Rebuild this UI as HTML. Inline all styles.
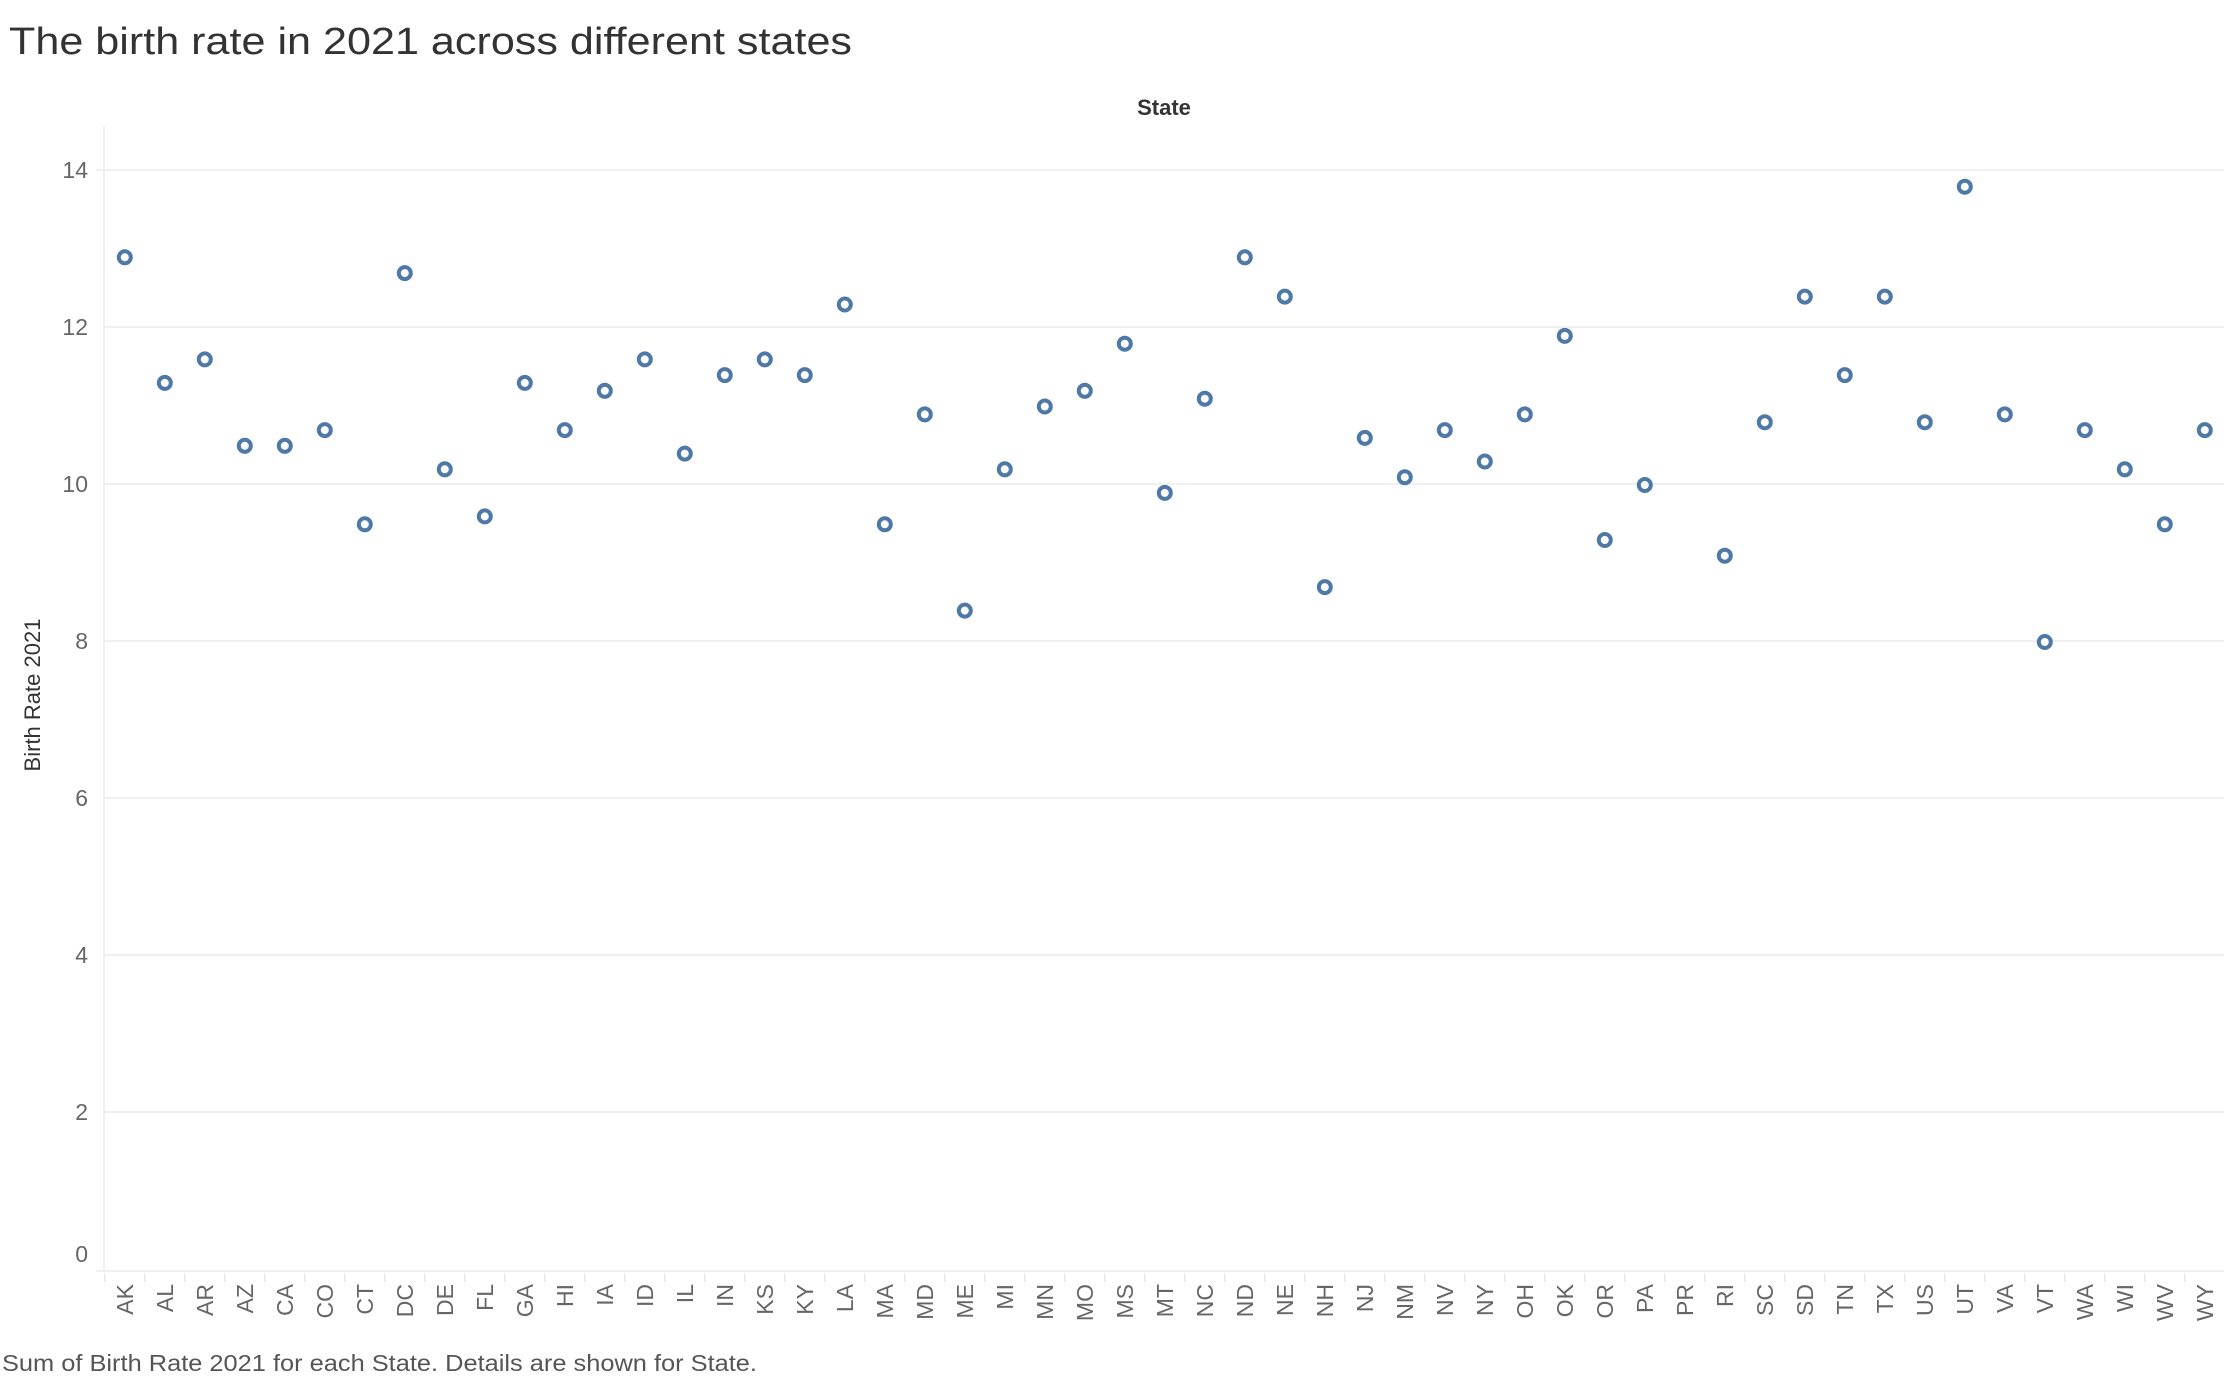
<!DOCTYPE html>
<html><head><meta charset="utf-8"><style>
html,body{margin:0;padding:0;background:#fff;}
svg{display:block;font-family:"Liberation Sans",sans-serif;}
</style></head><body>
<svg width="2224" height="1380" viewBox="0 0 2224 1380" xmlns="http://www.w3.org/2000/svg">
<text x="9" y="54" font-size="38" fill="#333" textLength="843" lengthAdjust="spacingAndGlyphs">The birth rate in 2021 across different states</text>
<text x="1164" y="115" font-size="22" font-weight="bold" fill="#333" text-anchor="middle">State</text>
<text transform="translate(40,695) rotate(-90)" font-size="22" fill="#333" text-anchor="middle">Birth Rate 2021</text>
<g stroke="#ececec" stroke-width="1.5">
<line x1="104" y1="170" x2="2224" y2="170"/>
<line x1="104" y1="327" x2="2224" y2="327"/>
<line x1="104" y1="484" x2="2224" y2="484"/>
<line x1="104" y1="641" x2="2224" y2="641"/>
<line x1="104" y1="798" x2="2224" y2="798"/>
<line x1="104" y1="955" x2="2224" y2="955"/>
<line x1="104" y1="1112" x2="2224" y2="1112"/>
<line x1="96" y1="170" x2="104" y2="170"/>
<line x1="104" y1="125" x2="104" y2="1270"/>
<line x1="96" y1="1271" x2="2224" y2="1271"/>
</g>
<g stroke="#e6e6e6" stroke-width="1.5">
<line x1="104.8" y1="1274" x2="104.8" y2="1282"/><line x1="144.8" y1="1274" x2="144.8" y2="1282"/><line x1="184.8" y1="1274" x2="184.8" y2="1282"/><line x1="224.8" y1="1274" x2="224.8" y2="1282"/><line x1="264.8" y1="1274" x2="264.8" y2="1282"/><line x1="304.8" y1="1274" x2="304.8" y2="1282"/><line x1="344.8" y1="1274" x2="344.8" y2="1282"/><line x1="384.8" y1="1274" x2="384.8" y2="1282"/><line x1="424.8" y1="1274" x2="424.8" y2="1282"/><line x1="464.8" y1="1274" x2="464.8" y2="1282"/><line x1="504.8" y1="1274" x2="504.8" y2="1282"/><line x1="544.8" y1="1274" x2="544.8" y2="1282"/><line x1="584.8" y1="1274" x2="584.8" y2="1282"/><line x1="624.8" y1="1274" x2="624.8" y2="1282"/><line x1="664.8" y1="1274" x2="664.8" y2="1282"/><line x1="704.8" y1="1274" x2="704.8" y2="1282"/><line x1="744.8" y1="1274" x2="744.8" y2="1282"/><line x1="784.8" y1="1274" x2="784.8" y2="1282"/><line x1="824.8" y1="1274" x2="824.8" y2="1282"/><line x1="864.8" y1="1274" x2="864.8" y2="1282"/><line x1="904.8" y1="1274" x2="904.8" y2="1282"/><line x1="944.8" y1="1274" x2="944.8" y2="1282"/><line x1="984.8" y1="1274" x2="984.8" y2="1282"/><line x1="1024.8" y1="1274" x2="1024.8" y2="1282"/><line x1="1064.8" y1="1274" x2="1064.8" y2="1282"/><line x1="1104.8" y1="1274" x2="1104.8" y2="1282"/><line x1="1144.8" y1="1274" x2="1144.8" y2="1282"/><line x1="1184.8" y1="1274" x2="1184.8" y2="1282"/><line x1="1224.8" y1="1274" x2="1224.8" y2="1282"/><line x1="1264.8" y1="1274" x2="1264.8" y2="1282"/><line x1="1304.8" y1="1274" x2="1304.8" y2="1282"/><line x1="1344.8" y1="1274" x2="1344.8" y2="1282"/><line x1="1384.8" y1="1274" x2="1384.8" y2="1282"/><line x1="1424.8" y1="1274" x2="1424.8" y2="1282"/><line x1="1464.8" y1="1274" x2="1464.8" y2="1282"/><line x1="1504.8" y1="1274" x2="1504.8" y2="1282"/><line x1="1544.8" y1="1274" x2="1544.8" y2="1282"/><line x1="1584.8" y1="1274" x2="1584.8" y2="1282"/><line x1="1624.8" y1="1274" x2="1624.8" y2="1282"/><line x1="1664.8" y1="1274" x2="1664.8" y2="1282"/><line x1="1704.8" y1="1274" x2="1704.8" y2="1282"/><line x1="1744.8" y1="1274" x2="1744.8" y2="1282"/><line x1="1784.8" y1="1274" x2="1784.8" y2="1282"/><line x1="1824.8" y1="1274" x2="1824.8" y2="1282"/><line x1="1864.8" y1="1274" x2="1864.8" y2="1282"/><line x1="1904.8" y1="1274" x2="1904.8" y2="1282"/><line x1="1944.8" y1="1274" x2="1944.8" y2="1282"/><line x1="1984.8" y1="1274" x2="1984.8" y2="1282"/><line x1="2024.8" y1="1274" x2="2024.8" y2="1282"/><line x1="2064.8" y1="1274" x2="2064.8" y2="1282"/><line x1="2104.8" y1="1274" x2="2104.8" y2="1282"/><line x1="2144.8" y1="1274" x2="2144.8" y2="1282"/><line x1="2184.8" y1="1274" x2="2184.8" y2="1282"/>
</g>
<g font-size="23" fill="#666" text-anchor="end">
<text x="88" y="178">14</text>
<text x="88" y="335">12</text>
<text x="88" y="492">10</text>
<text x="88" y="649">8</text>
<text x="88" y="806">6</text>
<text x="88" y="963">4</text>
<text x="88" y="1120">2</text>
<text x="88" y="1262">0</text>
</g>
<g fill="#fff" stroke="#4e79a7" stroke-width="4">
<circle cx="124.8" cy="257.3" r="6"/><circle cx="164.8" cy="382.9" r="6"/><circle cx="204.8" cy="359.4" r="6"/><circle cx="244.8" cy="445.8" r="6"/><circle cx="284.8" cy="445.8" r="6"/><circle cx="324.8" cy="430.1" r="6"/><circle cx="364.8" cy="524.3" r="6"/><circle cx="404.8" cy="273.1" r="6"/><circle cx="444.8" cy="469.3" r="6"/><circle cx="484.8" cy="516.4" r="6"/><circle cx="524.8" cy="382.9" r="6"/><circle cx="564.8" cy="430.1" r="6"/><circle cx="604.8" cy="390.8" r="6"/><circle cx="644.8" cy="359.4" r="6"/><circle cx="684.8" cy="453.6" r="6"/><circle cx="724.8" cy="375.1" r="6"/><circle cx="764.8" cy="359.4" r="6"/><circle cx="804.8" cy="375.1" r="6"/><circle cx="844.8" cy="304.5" r="6"/><circle cx="884.8" cy="524.3" r="6"/><circle cx="924.8" cy="414.4" r="6"/><circle cx="964.8" cy="610.6" r="6"/><circle cx="1004.8" cy="469.3" r="6"/><circle cx="1044.8" cy="406.5" r="6"/><circle cx="1084.8" cy="390.8" r="6"/><circle cx="1124.8" cy="343.7" r="6"/><circle cx="1164.8" cy="492.9" r="6"/><circle cx="1204.8" cy="398.7" r="6"/><circle cx="1244.8" cy="257.3" r="6"/><circle cx="1284.8" cy="296.6" r="6"/><circle cx="1324.8" cy="587.1" r="6"/><circle cx="1364.8" cy="437.9" r="6"/><circle cx="1404.8" cy="477.2" r="6"/><circle cx="1444.8" cy="430.1" r="6"/><circle cx="1484.8" cy="461.5" r="6"/><circle cx="1524.8" cy="414.4" r="6"/><circle cx="1564.8" cy="335.9" r="6"/><circle cx="1604.8" cy="540.0" r="6"/><circle cx="1644.8" cy="485.0" r="6"/><circle cx="1724.8" cy="555.7" r="6"/><circle cx="1764.8" cy="422.2" r="6"/><circle cx="1804.8" cy="296.6" r="6"/><circle cx="1844.8" cy="375.1" r="6"/><circle cx="1884.8" cy="296.6" r="6"/><circle cx="1924.8" cy="422.2" r="6"/><circle cx="1964.8" cy="186.7" r="6"/><circle cx="2004.8" cy="414.4" r="6"/><circle cx="2044.8" cy="642.0" r="6"/><circle cx="2084.8" cy="430.1" r="6"/><circle cx="2124.8" cy="469.3" r="6"/><circle cx="2164.8" cy="524.3" r="6"/><circle cx="2204.8" cy="430.1" r="6"/>
</g>
<g font-size="23" fill="#666" text-anchor="end">
<text transform="translate(133,1284) rotate(-90)">AK</text>
<text transform="translate(173,1284) rotate(-90)">AL</text>
<text transform="translate(213,1284) rotate(-90)">AR</text>
<text transform="translate(253,1284) rotate(-90)">AZ</text>
<text transform="translate(293,1284) rotate(-90)">CA</text>
<text transform="translate(333,1284) rotate(-90)">CO</text>
<text transform="translate(373,1284) rotate(-90)">CT</text>
<text transform="translate(413,1284) rotate(-90)">DC</text>
<text transform="translate(453,1284) rotate(-90)">DE</text>
<text transform="translate(493,1284) rotate(-90)">FL</text>
<text transform="translate(533,1284) rotate(-90)">GA</text>
<text transform="translate(573,1284) rotate(-90)">HI</text>
<text transform="translate(613,1284) rotate(-90)">IA</text>
<text transform="translate(653,1284) rotate(-90)">ID</text>
<text transform="translate(693,1284) rotate(-90)">IL</text>
<text transform="translate(733,1284) rotate(-90)">IN</text>
<text transform="translate(773,1284) rotate(-90)">KS</text>
<text transform="translate(813,1284) rotate(-90)">KY</text>
<text transform="translate(853,1284) rotate(-90)">LA</text>
<text transform="translate(893,1284) rotate(-90)">MA</text>
<text transform="translate(933,1284) rotate(-90)">MD</text>
<text transform="translate(973,1284) rotate(-90)">ME</text>
<text transform="translate(1013,1284) rotate(-90)">MI</text>
<text transform="translate(1053,1284) rotate(-90)">MN</text>
<text transform="translate(1093,1284) rotate(-90)">MO</text>
<text transform="translate(1133,1284) rotate(-90)">MS</text>
<text transform="translate(1173,1284) rotate(-90)">MT</text>
<text transform="translate(1213,1284) rotate(-90)">NC</text>
<text transform="translate(1253,1284) rotate(-90)">ND</text>
<text transform="translate(1293,1284) rotate(-90)">NE</text>
<text transform="translate(1333,1284) rotate(-90)">NH</text>
<text transform="translate(1373,1284) rotate(-90)">NJ</text>
<text transform="translate(1413,1284) rotate(-90)">NM</text>
<text transform="translate(1453,1284) rotate(-90)">NV</text>
<text transform="translate(1493,1284) rotate(-90)">NY</text>
<text transform="translate(1533,1284) rotate(-90)">OH</text>
<text transform="translate(1573,1284) rotate(-90)">OK</text>
<text transform="translate(1613,1284) rotate(-90)">OR</text>
<text transform="translate(1653,1284) rotate(-90)">PA</text>
<text transform="translate(1693,1284) rotate(-90)">PR</text>
<text transform="translate(1733,1284) rotate(-90)">RI</text>
<text transform="translate(1773,1284) rotate(-90)">SC</text>
<text transform="translate(1813,1284) rotate(-90)">SD</text>
<text transform="translate(1853,1284) rotate(-90)">TN</text>
<text transform="translate(1893,1284) rotate(-90)">TX</text>
<text transform="translate(1933,1284) rotate(-90)">US</text>
<text transform="translate(1973,1284) rotate(-90)">UT</text>
<text transform="translate(2013,1284) rotate(-90)">VA</text>
<text transform="translate(2053,1284) rotate(-90)">VT</text>
<text transform="translate(2093,1284) rotate(-90)">WA</text>
<text transform="translate(2133,1284) rotate(-90)">WI</text>
<text transform="translate(2173,1284) rotate(-90)">WV</text>
<text transform="translate(2213,1284) rotate(-90)">WY</text>
</g>
<text x="2" y="1371" font-size="23" fill="#555" textLength="755" lengthAdjust="spacingAndGlyphs">Sum of Birth Rate 2021 for each State.  Details are shown for State.</text>
</svg>
</body></html>
